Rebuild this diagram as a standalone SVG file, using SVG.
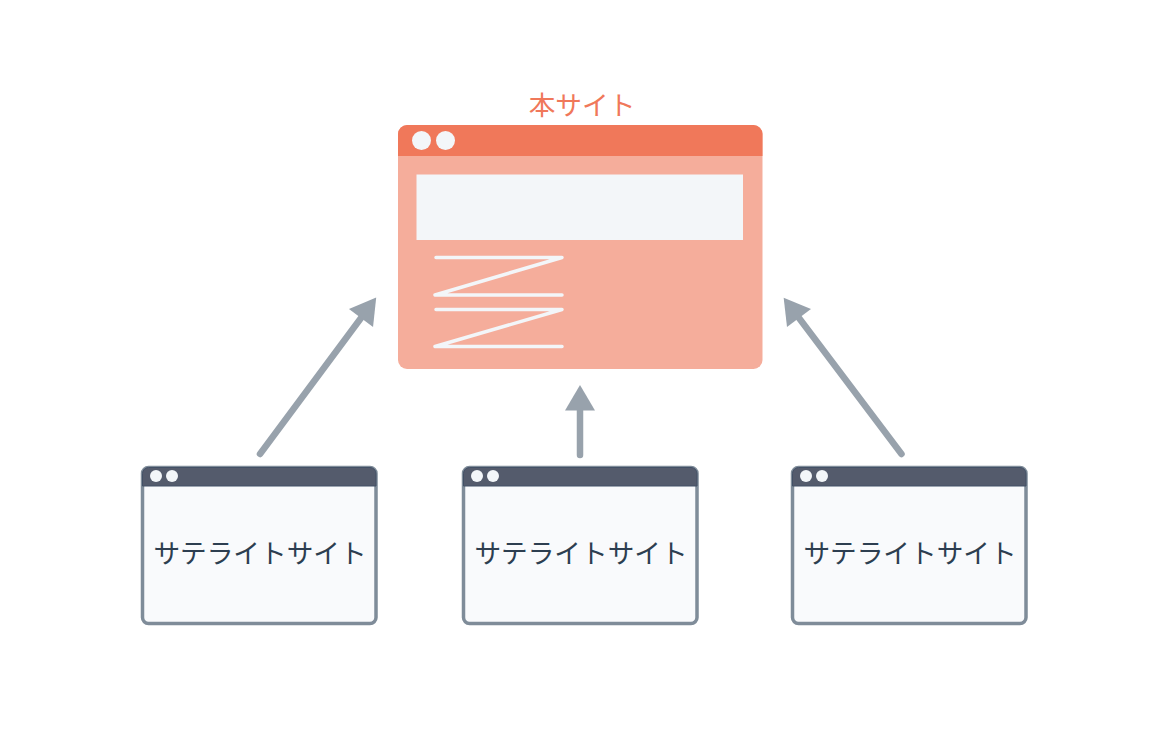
<svg xmlns="http://www.w3.org/2000/svg" width="1160" height="749" viewBox="0 0 1160 749">
<style>
text{font-family:"Noto Sans CJK JP","Noto Sans",sans-serif;text-anchor:middle;font-size:26.67px}
.sat-label{fill:#2d3e50}
.main-label{fill:#f0785a}
.sat-body{fill:#f9fafc;stroke:#7f8c99;stroke-width:3.5}
.sat-head{fill:#545b6c;stroke:#425066;stroke-width:1}
.dot{fill:#f3f6f9}
.zig{fill:none;stroke:#f3f6f9;stroke-width:3.5;stroke-linecap:round;stroke-linejoin:round}
.conn{fill:none;stroke:#98a2ac;stroke-width:6.500;stroke-linecap:round;marker-end:url(#head)}
</style>
<defs>
<marker id="head" markerUnits="userSpaceOnUse" markerWidth="26" markerHeight="32" viewBox="0 -16 26 32" refX="0" refY="0" orient="auto" overflow="visible">
<path d="M0,-15 L25.5,0 L0,15 Z" fill="#98a2ac"/>
</marker>
<clipPath id="mainHead"><rect x="398" y="125" width="365" height="31"/></clipPath>
</defs>
<g id="connectors">
<path class="conn" d="M260,454 L361,318"/>
<path class="conn" d="M580,455 L580,410.5"/>
<path class="conn" d="M901.5,454 L799,318"/>
</g>
<g id="main-site">
<text class="main-label" x="582" y="114.500">本サイト</text>
<rect x="398" y="125" width="364.500" height="244" rx="9" fill="#f5ad9b"/>
<rect x="398" y="125" width="364.500" height="244" rx="9" fill="#f0785a" clip-path="url(#mainHead)"/>
<circle class="dot" cx="421.500" cy="140.500" r="9.500"/>
<circle class="dot" cx="445.500" cy="140.500" r="9.500"/>
<rect class="dot" x="416.500" y="174.500" width="326.500" height="65.500"/>
<path class="zig" d="M436,257.500 H562 L435,295 H562"/>
<path class="zig" d="M436,309.500 H562 L435,346.500 H562"/>
</g>
<g id="satellite-1">
<rect class="sat-body" x="142.500" y="467.500" width="233.500" height="156" rx="6"/>
<path class="sat-head" d="M142.500,486 V473.500 a6,6 0 0 1 6,-6 H370 a6,6 0 0 1 6,6 V486 Z"/>
<circle class="dot" cx="156" cy="476" r="6"/>
<circle class="dot" cx="172" cy="476" r="6"/>
<text class="sat-label" x="260" y="563">サテライトサイト</text>
</g>
<g id="satellite-2">
<rect class="sat-body" x="463.500" y="467.500" width="233.500" height="156" rx="6"/>
<path class="sat-head" d="M463.500,486 V473.500 a6,6 0 0 1 6,-6 H691 a6,6 0 0 1 6,6 V486 Z"/>
<circle class="dot" cx="477" cy="476" r="6"/>
<circle class="dot" cx="493" cy="476" r="6"/>
<text class="sat-label" x="581" y="563">サテライトサイト</text>
</g>
<g id="satellite-3">
<rect class="sat-body" x="792.500" y="467.500" width="233.500" height="156" rx="6"/>
<path class="sat-head" d="M792.500,486 V473.500 a6,6 0 0 1 6,-6 H1020 a6,6 0 0 1 6,6 V486 Z"/>
<circle class="dot" cx="806" cy="476" r="6"/>
<circle class="dot" cx="822" cy="476" r="6"/>
<text class="sat-label" x="910" y="563">サテライトサイト</text>
</g>
</svg>
